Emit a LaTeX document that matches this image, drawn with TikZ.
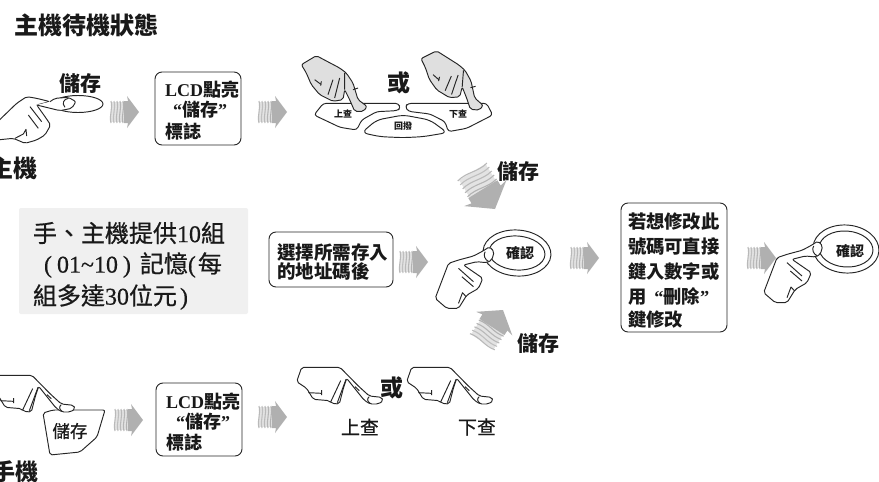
\documentclass[tikz,border=0pt]{standalone}
\usepackage{fontspec}
\setmainfont{Liberation Serif}
\newfontfamily\cjk{Noto Sans CJK TC}
\newfontfamily\cjkp{Noto Sans CJK TC}[RawFeature={embolden=0.6}]
\newfontfamily\sre{Liberation Serif}[RawFeature={embolden=0.5}]
\newcommand{\fs}[1]{\fontsize{#1}{#1}\selectfont}
\newcommand{\cb}{\cjk\bfseries}
\newcommand{\sr}{\rmfamily\bfseries}
\tikzset{
  txt/.style={inner sep=0pt,outer sep=0pt,text=black!90},
  lbl/.style={txt,font=\cb\fs{#1}},
  lbl/.default=18,
  rbox/.style={draw=black!85,line width=.9pt,rounded corners=7pt,fill=white},
  ln/.style={draw=black!85,line width=.95pt,line join=round},
  blockarr/.pic={
    \fill[gray!22] (-28,-10) rectangle (-14,10);
    \foreach \x/\c in {-28/55,-25/50,-22/55,-19/58,-16/60}
      \draw[gray!\c,line width=1.1pt] (\x,-11) .. controls (\x+2,-3) and (\x-2,3) .. (\x,11);
    \fill[gray!62] (-15,-11) -- (-11,-11) -- (-12,-16) -- (0,0) -- (-12,16) -- (-11,11) -- (-15,11) -- cycle;
  },
  handA/.pic={
    \begin{scope}[scale=1/3]
    \draw[ln,fill=white,rounded corners=2pt] (-10,188) -- (50,130) -- (80,110) -- (110,115) -- (150,125) -- (110,135) -- (135,170) -- (152,195) -- (135,225) -- (110,240) -- (75,250) -- (40,235) -- (-10,240);
    \draw[ln,rounded corners=2pt,fill=white] (150,125) -- (165,115) -- (205,112) -- (228,125) -- (215,145) -- (180,152) -- (110,135);
    \draw[ln] (205,115) .. controls (190,118) and (185,130) .. (195,142);
    \draw[ln] (90,140) -- (125,185) (85,165) -- (115,205) (45,235) -- (70,222) -- (78,208) -- (80,228);
    \end{scope}
  },
  handB/.pic={
    \begin{scope}[scale=1/3,shift={(-178,-98)}]
    \draw[ln,fill=white,rounded corners=2pt] (15,235) -- (55,130) -- (85,120) -- (130,108) -- (160,92) -- (178,80) -- (192,95) -- (185,120) -- (170,128) -- (140,125) -- (100,135) -- (158,175) -- (145,205) -- (110,225) -- (85,265) -- (50,265) -- cycle;
    \draw[ln] (165,95) .. controls (158,105) and (165,120) .. (175,124);
    \draw[ln] (85,145) -- (130,185) (95,170) -- (130,200) (85,250) -- (97,218) -- (108,230);
    \end{scope}
  },
  handC/.pic={
    \begin{scope}[scale=1/3]
    \draw[ln,fill=white,rounded corners=2pt] (20,65) -- (35,22) -- (150,22) -- (205,78) -- (238,108) -- (275,112) -- (280,122) -- (265,132) -- (240,132) -- (222,120) -- (170,55) -- (160,85) -- (148,132) -- (125,130) -- (118,122) -- (70,118) -- (50,85) -- cycle;
    \draw[ln] (238,110) .. controls (230,115) and (232,125) .. (240,130);
    \draw[ln] (55,98) -- (95,100) (95,90) -- (95,105) (152,62) -- (122,126) (168,58) -- (142,128) (195,80) -- (208,92);
    \end{scope}
  },
  handD/.pic={
    \begin{scope}[scale=1/3,shift={(-232,-205)}]
    \draw[ln,fill=gray!25,rounded corners=2pt] (35,75) -- (80,48) -- (150,85) -- (170,100) -- (190,130) -- (205,180) -- (232,200) -- (222,215) -- (195,215) -- (180,180) -- (165,150) -- (160,180) -- (130,185) -- (90,165) -- (65,135) -- (50,100) -- cycle;
    \draw[ln] (75,120) -- (95,135) (95,125) -- (93,138) (130,120) -- (115,165) (150,115) -- (135,175) (165,100) -- (165,150) (190,150) -- (205,145);
    \end{scope}
  }
}
\begin{document}
\begin{tikzpicture}[x=1pt,y=-1pt]
\useasboundingbox (0,0) rectangle (879,482);
\fill[white] (0,0) rectangle (879,482);

% title and captions
\node[lbl=24,anchor=west] (title) at (15,25) {主機待機狀態};
\node[lbl=24,anchor=east] (host) at (38,168) {主機};
\node[lbl=23,anchor=east] (handset) at (38,472) {手機};

% info panel
\fill[gray!12,rounded corners=2pt] (19,208) rectangle (248,314);
\node[txt,anchor=west,font=\cjkp\fs{24}] (p1) at (33,233) {手、主機提供{\sre 10}組};
\node[txt,anchor=west,font=\cjkp\fs{24}] (p2) at (44,265) {{\sre (}\hspace{5pt}{\sre 01\textasciitilde 10}\hspace{5pt}{\sre )}\hspace{9pt}記憶{\sre (}\hspace{2pt}每};
\node[txt,anchor=west,font=\cjkp\fs{24}] (p3) at (33,297) {組多達{\sre 30}位元\hspace{3pt}{\sre )}};

% top row
\draw[ln] (78,104) ellipse [x radius=25,y radius=8.5];
\node[lbl=21] (store1) at (80,84) {儲存};
\pic (hand1) at (0,60) {handA};
\draw[rbox] (155,72) rectangle (241,145);
\node[lbl=18,anchor=west] (b1a) at (165,90) {{\sr LCD}點亮};
\node[lbl=18] (b1b) at (200,110) {{\sr “}儲存{\sr ”}};
\node[lbl=18,anchor=west] (b1c) at (165,132) {標誌};
\pic at (139,112) {blockarr};
\pic at (287,112) {blockarr};

% three-key panel
\begin{scope}[shift={(290,40)},scale=1/3]
\draw[ln,fill=white,rounded corners=3pt] (72,225) -- (100,190) -- (325,190) -- (332,205) -- (320,212) -- (260,215) -- (215,240) -- (200,270) -- (150,262) -- cycle;
\draw[ln,fill=white,rounded corners=3pt] (345,200) -- (355,190) -- (590,190) -- (608,225) -- (530,265) -- (475,275) -- (465,245) -- (420,222) -- (355,214) -- cycle;
\draw[ln,fill=white,rounded corners=6pt] (215,278) -- (260,240) -- (340,225) -- (420,240) -- (472,278) -- (400,290) -- (340,293) -- (270,290) -- cycle;
\end{scope}
\pic (fingerL) at (367,108) {handD};
\pic[rotate=-4.5] (fingerR) at (483,107) {handD};
\node[lbl=9] (up1) at (343,114) {上查};
\node[lbl=9] (dn1) at (458,114) {下查};
\node[lbl=9] (back) at (403,126) {回撥};
\node[lbl=23] (or1) at (399,83) {或};

% middle row
\draw[rbox] (269,232) rectangle (393,287);
\node[lbl=18.5,anchor=west] (s1) at (277,253) {選擇所需存入};
\node[lbl=18.5,anchor=west] (s2) at (277,271) {的地址碼後};
\pic at (428,262) {blockarr};
\begin{scope}[rotate around={-4:(517,253)}]
\draw[ln] (517,253) ellipse [x radius=34,y radius=23];
\draw[ln] (517,253) ellipse [x radius=28,y radius=17];
\end{scope}
\node[lbl=14] (ok1) at (520,253) {確認};
\pic (hand2) at (489.5,252.7) {handB};
\pic[rotate=-58.5,scale=1.55] at (495,209) {blockarr};
\node[lbl=21] (store2) at (518,172) {儲存};
\pic[rotate=57,scale=1.35] at (503,310) {blockarr};
\node[lbl=21] (store3) at (538,344) {儲存};
\pic at (599,258) {blockarr};

\draw[rbox] (621,203) rectangle (727,332);
\node[lbl=18.3,anchor=west] (e1) at (628,222) {若想修改此};
\node[lbl=18.3,anchor=west] (e2) at (628,247) {號碼可直接};
\node[lbl=18.3,anchor=west] (e3) at (628,272) {鍵入數字或};
\node[lbl=18.3,anchor=west] (e4) at (628,296) {用\hspace{8pt}{\sr “}刪除{\sr ”}};
\node[lbl=18.3,anchor=west] (e5) at (628,320) {鍵修改};
\pic at (776,258) {blockarr};
\begin{scope}[rotate around={-4:(846,249)}]
\draw[ln] (846,249) ellipse [x radius=33,y radius=24];
\draw[ln] (846,249) ellipse [x radius=27,y radius=18];
\end{scope}
\node[lbl=14] (ok2) at (850,251) {確認};
\pic (hand3) at (818,247) {handB};

% bottom row
\draw[ln,fill=white,rounded corners=2pt] (43,413) -- (53,410) -- (105,410) -- (97,437) -- (80,452) -- (50,455) -- cycle;
\node[txt,font=\cjkp\fs{17.5}] (store4) at (70,431) {儲存};
\pic (hand4) at (-18,368) {handC};
\pic at (143,420) {blockarr};
\draw[rbox] (156,383) rectangle (242,456);
\node[lbl=18,anchor=west] (b2a) at (166,402) {{\sr LCD}點亮};
\node[lbl=18] (b2b) at (203,422) {{\sr “}儲存{\sr ”}};
\node[lbl=18,anchor=west] (b2c) at (166,443) {標誌};
\pic at (287,417) {blockarr};
\pic (hand5) at (290,360) {handC};
\pic (hand6) at (400,360) {handC};
\node[lbl=23] (or2) at (392,388) {或};
\node[txt,font=\cjkp\fs{19}] (up2) at (360,427) {上查};
\node[txt,font=\cjkp\fs{19}] (dn2) at (477,427) {下查};
\end{tikzpicture}
\end{document}
